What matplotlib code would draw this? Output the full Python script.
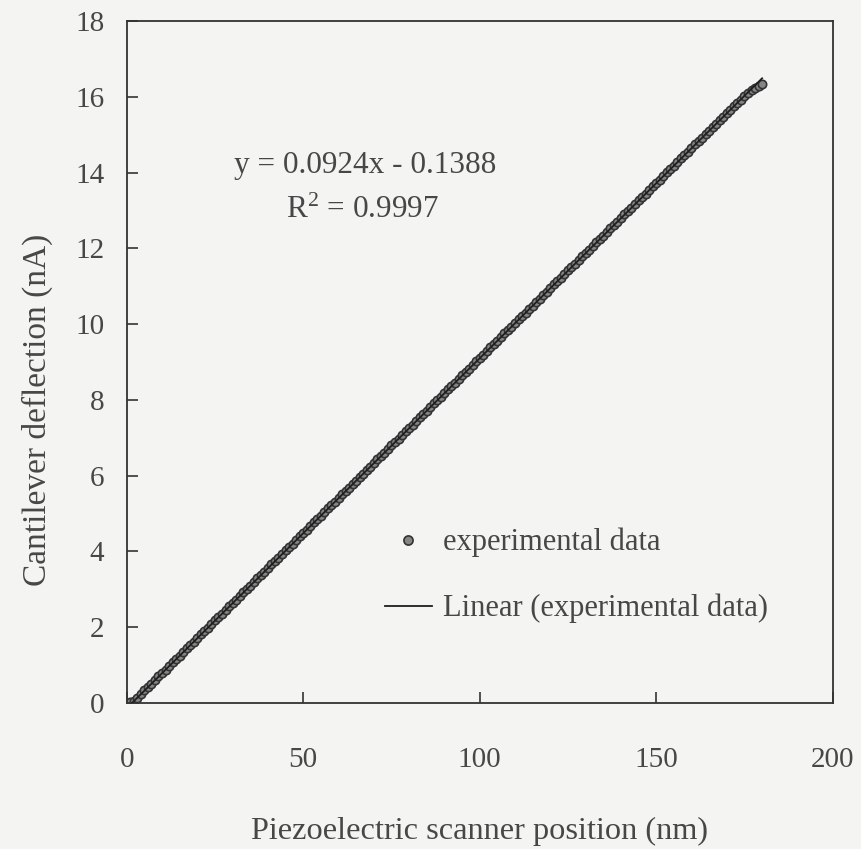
import matplotlib
matplotlib.use("Agg")
import matplotlib.pyplot as plt

# Calibration run: piezo position (nm) vs cantilever deflection current (nA)
position_nm = list(range(0, 181))
deflection_nA = [
    0.00, 0.02, 0.05, 0.14, 0.23, 0.33, 0.42, 0.50, 0.60, 0.70,
    0.79, 0.88, 0.97, 1.07, 1.16, 1.24, 1.34, 1.44, 1.52, 1.61,
    1.71, 1.81, 1.89, 1.98, 2.08, 2.18, 2.26, 2.35, 2.45, 2.55,
    2.63, 2.72, 2.82, 2.92, 3.00, 3.09, 3.19, 3.29, 3.37, 3.46,
    3.56, 3.66, 3.74, 3.83, 3.93, 4.03, 4.11, 4.20, 4.30, 4.40,
    4.48, 4.57, 4.67, 4.77, 4.85, 4.94, 5.04, 5.14, 5.22, 5.31,
    5.41, 5.51, 5.59, 5.68, 5.77, 5.87, 5.96, 6.05, 6.14, 6.24,
    6.33, 6.43, 6.51, 6.60, 6.70, 6.80, 6.88, 6.97, 7.07, 7.17,
    7.25, 7.34, 7.44, 7.54, 7.62, 7.71, 7.81, 7.91, 7.99, 8.08,
    8.18, 8.28, 8.36, 8.45, 8.55, 8.65, 8.73, 8.82, 8.92, 9.02,
    9.10, 9.19, 9.29, 9.39, 9.47, 9.56, 9.66, 9.76, 9.84, 9.93,
    10.03, 10.13, 10.21, 10.30, 10.39, 10.49, 10.58, 10.67, 10.76, 10.86,
    10.95, 11.05, 11.13, 11.22, 11.32, 11.42, 11.50, 11.59, 11.69, 11.79,
    11.87, 11.96, 12.06, 12.16, 12.24, 12.33, 12.43, 12.53, 12.61, 12.70,
    12.80, 12.90, 12.98, 13.07, 13.17, 13.27, 13.35, 13.44, 13.54, 13.64,
    13.72, 13.81, 13.91, 14.01, 14.09, 14.18, 14.28, 14.38, 14.46, 14.55,
    14.65, 14.75, 14.83, 14.92, 15.01, 15.11, 15.20, 15.29, 15.38, 15.48,
    15.57, 15.66, 15.75, 15.84, 15.93, 16.02, 16.10, 16.18, 16.25, 16.30,
    16.34,
]

# Linear trendline coefficients
slope = 0.0924
intercept = -0.1388
r_squared = 0.9997
fit_range = [0, 180]

x_ticks = [0, 50, 100, 150, 200]
y_ticks = [0, 2, 4, 6, 8, 10, 12, 14, 16, 18]

plt.rcParams['font.family'] = ['Liberation Serif', 'DejaVu Serif']
plt.rcParams['mathtext.fontset'] = 'custom'
plt.rcParams['mathtext.rm'] = 'Liberation Serif'
plt.rcParams['mathtext.it'] = 'Liberation Serif:italic'
text_color = '#474747'
bg = '#f4f4f2'

fig = plt.figure(figsize=(8.62, 8.49), dpi=100, facecolor=bg)
ax = fig.add_axes([0.147, 0.172, 0.819, 0.803], facecolor=bg)

ax.plot(position_nm, deflection_nA, linestyle='none', marker='o', markersize=6.0,
        markerfacecolor='#858585', markeredgecolor='#333333', markeredgewidth=1.2,
        label='experimental data', zorder=2)
fit_y = [slope * x + intercept for x in fit_range]
ax.plot(fit_range, fit_y, color='#1e1e1e', linewidth=1.3,
        label='Linear (experimental data)', zorder=3)

ax.set_xlim(0, 200)
ax.set_ylim(0, 18)
ax.set_xticks(x_ticks)
ax.set_yticks(y_ticks)
ax.tick_params(axis='both', direction='in', length=8, width=1.2, colors='#333333',
               labelsize=21, labelcolor=text_color)
ax.tick_params(axis='x', pad=32)
ax.tick_params(axis='y', pad=16)
for s in ax.spines.values():
    s.set_color('#333333')
    s.set_linewidth(1.3)

ax.set_xlabel('Piezoelectric scanner position (nm)', fontsize=23.3, color=text_color, labelpad=31)
ax.set_ylabel('Cantilever deflection (nA)', fontsize=24, color=text_color)
ax.yaxis.set_label_coords(-0.104, 0.43)

ax.text(0.337, 0.789, f'y = {slope:.4f}x - {abs(intercept):.4f}', transform=ax.transAxes,
        ha='center', va='center', fontsize=22.5, color=text_color)
ax.text(0.334, 0.723, f'R$^2$ = {r_squared:.4f}', transform=ax.transAxes,
        ha='center', va='center', fontsize=22.5, color=text_color)

leg = ax.legend(loc='upper left', bbox_to_anchor=(0.348, 0.275), frameon=False,
                fontsize=22, labelspacing=1.2, handlelength=1.55, handletextpad=0.36,
                borderaxespad=0, borderpad=0.4, markerscale=1.1)
for t in leg.get_texts():
    t.set_color(text_color)

fig.savefig('out.png', dpi=100, facecolor=bg)
